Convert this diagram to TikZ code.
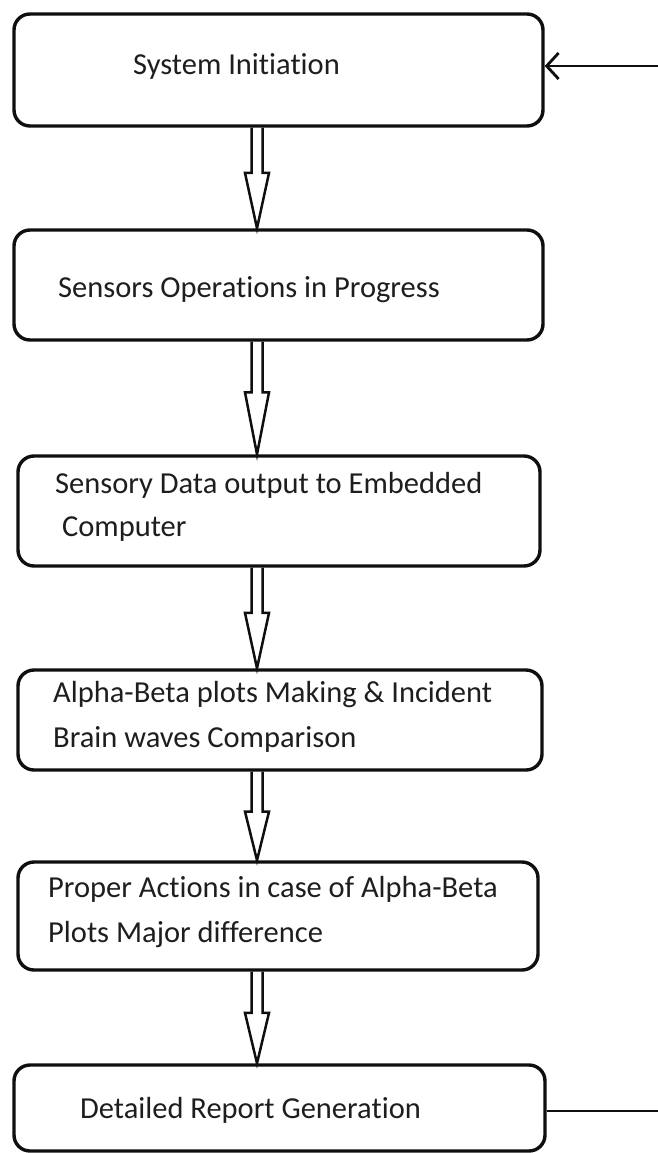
\documentclass[tikz,border=0pt]{standalone}
\usepackage{fontspec}
\setmainfont{Carlito}[Ligatures=NoCommon]
\usetikzlibrary{arrows.meta,calc}
\definecolor{boxblack}{RGB}{15, 15, 15}
\definecolor{textgray}{RGB}{30, 30, 30}
\tikzset{
  stepbox/.style={draw=boxblack, line width=3.4pt, rounded corners=16pt, fill=white},
  steptext/.style={anchor=west, align=left, inner sep=0pt, text=textgray, font=\fontsize{30.5}{45}\selectfont},
  hollow/.style={draw=boxblack, line width=2.5pt, line join=miter},
  feedback/.style={draw=boxblack, line width=2.8pt}
}

\begin{document}
\begin{tikzpicture}[x=1pt, y=-1pt]
\useasboundingbox (0,0) rectangle (658,1153);
\coordinate (axis) at (257,0);
% process boxes
\foreach \n/\cx/\cy/\w/\h in {1/278.5/70/529/112, 2/278.5/285/529/110, 3/279/511/522/110, 4/280/720/524/100, 5/278/916/520/108, 6/279.5/1108/531/86} {
    \node[stepbox, minimum width=\w pt, minimum height=\h pt] (b\n) at (\cx,\cy) {};
}
% labels
\node[steptext] (t1) at (133,66) {System Initiation};
\node[steptext] (t2) at (58,290) {Sensors Operations in Progress};
\node[steptext] (t3) at (55,507) {Sensory Data output to Embedded\\[-2pt]\ Computer};
\node[steptext] (t4) at (53,717) {Alpha-Beta plots Making \& Incident\\Brain waves Comparison};
\node[steptext] (t5) at (48,912) {Proper Actions in case of Alpha-Beta\\Plots Major difference};
\node[steptext] (t6) at (80,1110) {Detailed Report Generation};
% hollow arrows between boxes
\foreach \a/\b in {1/2, 2/3, 3/4, 4/5, 5/6} {
    \draw[hollow] let \p1=(b\a.south -| axis), \p2=(b\b.north -| axis), \n1={0.55*(\y1-\y2)} in
        (\x1-5.5pt,\y1) -- (\x1-5.5pt,\y2+\n1) -- (\x1-12pt,\y2+\n1) -- (\x1,\y2)
        -- (\x1+12pt,\y2+\n1) -- (\x1+5.5pt,\y2+\n1) -- (\x1+5.5pt,\y1);
}
% feedback ends
\coordinate (fbin) at (658,66);
\draw[feedback, -{Straight Barb[length=12pt, width=26pt]}] (fbin) -- (fbin -| b1.east);
\coordinate (fbout) at (658,1111);
\draw[feedback] (b6.east |- fbout) -- (fbout);
\end{tikzpicture}
\end{document}
